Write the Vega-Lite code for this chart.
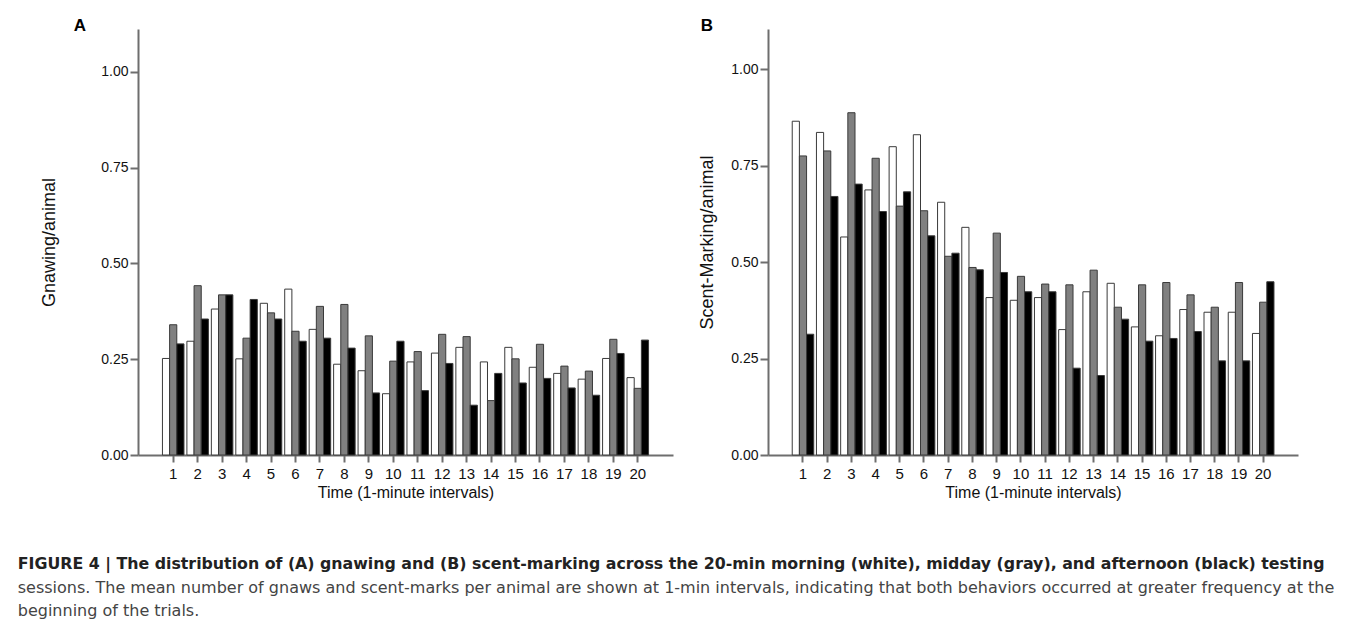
{
  "$schema": "https://vega.github.io/schema/vega-lite/v6.json",
  "background": "white",
  "padding": {"left": 17, "top": 17, "right": 0, "bottom": 0},
  "datasets": {
    "gnaw": [
      {"minute": 1, "morning": 0.252, "midday": 0.340, "afternoon": 0.290},
      {"minute": 2, "morning": 0.297, "midday": 0.442, "afternoon": 0.355},
      {"minute": 3, "morning": 0.381, "midday": 0.418, "afternoon": 0.418},
      {"minute": 4, "morning": 0.251, "midday": 0.305, "afternoon": 0.406},
      {"minute": 5, "morning": 0.396, "midday": 0.371, "afternoon": 0.355},
      {"minute": 6, "morning": 0.433, "midday": 0.323, "afternoon": 0.297},
      {"minute": 7, "morning": 0.328, "midday": 0.388, "afternoon": 0.305},
      {"minute": 8, "morning": 0.237, "midday": 0.393, "afternoon": 0.279},
      {"minute": 9, "morning": 0.220, "midday": 0.311, "afternoon": 0.162},
      {"minute": 10, "morning": 0.160, "midday": 0.245, "afternoon": 0.297},
      {"minute": 11, "morning": 0.243, "midday": 0.270, "afternoon": 0.168},
      {"minute": 12, "morning": 0.266, "midday": 0.315, "afternoon": 0.239},
      {"minute": 13, "morning": 0.281, "midday": 0.309, "afternoon": 0.130},
      {"minute": 14, "morning": 0.243, "midday": 0.142, "afternoon": 0.213},
      {"minute": 15, "morning": 0.281, "midday": 0.251, "afternoon": 0.188},
      {"minute": 16, "morning": 0.229, "midday": 0.289, "afternoon": 0.200},
      {"minute": 17, "morning": 0.213, "midday": 0.232, "afternoon": 0.175},
      {"minute": 18, "morning": 0.198, "midday": 0.219, "afternoon": 0.156},
      {"minute": 19, "morning": 0.252, "midday": 0.302, "afternoon": 0.265},
      {"minute": 20, "morning": 0.202, "midday": 0.174, "afternoon": 0.300}
    ],
    "scent": [
      {"minute": 1, "morning": 0.865, "midday": 0.775, "afternoon": 0.313},
      {"minute": 2, "morning": 0.836, "midday": 0.788, "afternoon": 0.670},
      {"minute": 3, "morning": 0.565, "midday": 0.887, "afternoon": 0.702},
      {"minute": 4, "morning": 0.687, "midday": 0.769, "afternoon": 0.631},
      {"minute": 5, "morning": 0.799, "midday": 0.645, "afternoon": 0.682},
      {"minute": 6, "morning": 0.830, "midday": 0.633, "afternoon": 0.568},
      {"minute": 7, "morning": 0.655, "midday": 0.515, "afternoon": 0.523},
      {"minute": 8, "morning": 0.590, "midday": 0.486, "afternoon": 0.480},
      {"minute": 9, "morning": 0.408, "midday": 0.575, "afternoon": 0.473},
      {"minute": 10, "morning": 0.401, "midday": 0.463, "afternoon": 0.423},
      {"minute": 11, "morning": 0.408, "midday": 0.443, "afternoon": 0.423},
      {"minute": 12, "morning": 0.325, "midday": 0.441, "afternoon": 0.225},
      {"minute": 13, "morning": 0.423, "midday": 0.479, "afternoon": 0.206},
      {"minute": 14, "morning": 0.445, "midday": 0.383, "afternoon": 0.352},
      {"minute": 15, "morning": 0.332, "midday": 0.441, "afternoon": 0.295},
      {"minute": 16, "morning": 0.309, "midday": 0.447, "afternoon": 0.302},
      {"minute": 17, "morning": 0.377, "midday": 0.415, "afternoon": 0.320},
      {"minute": 18, "morning": 0.370, "midday": 0.383, "afternoon": 0.244},
      {"minute": 19, "morning": 0.370, "midday": 0.447, "afternoon": 0.244},
      {"minute": 20, "morning": 0.315, "midday": 0.396, "afternoon": 0.449}
    ]
  },
  "config": {
    "font": "Liberation Sans",
    "view": {"stroke": null},
    "axis": {
      "grid": false,
      "domainColor": "#6e6e6e",
      "domainWidth": 2,
      "tickColor": "#6e6e6e",
      "tickWidth": 2,
      "labelColor": "#111111",
      "titleColor": "#111111",
      "titleFontWeight": "normal",
      "labelFont": "Liberation Sans",
      "titleFont": "Liberation Sans"
    },
    "title": {"font": "Liberation Sans"}
  },
  "title": {
    "text": "FIGURE 4 | The distribution of (A) gnawing and (B) scent-marking across the 20-min morning (white), midday (gray), and afternoon (black) testing",
    "subtitle": ["sessions. The mean number of gnaws and scent-marks per animal are shown at 1-min intervals, indicating that both behaviors occurred at greater frequency at the", "beginning of the trials."],
    "orient": "bottom",
    "anchor": "start",
    "frame": "bounds",
    "dx": -23,
    "offset": 57,
    "font": "DejaVu Sans",
    "fontSize": 15.8,
    "fontWeight": "bold",
    "color": "#222222",
    "subtitleFont": "DejaVu Sans",
    "subtitleFontSize": 16,
    "subtitleColor": "#444444",
    "subtitlePadding": 7,
    "subtitleLineHeight": 23
  },
  "spacing": 25,
  "hconcat": [
    {
      "width": 535,
      "height": 426,
      "data": {"name": "gnaw"},
      "transform": [{"fold": ["morning", "midday", "afternoon"], "as": ["session", "value"]}],
      "title": {"text": "A", "anchor": "start", "frame": "bounds", "dx": 33, "offset": -6, "fontSize": 17, "fontWeight": "bold", "color": "#000000"},
      "mark": {"type": "bar", "stroke": "#3a3a3a", "strokeWidth": 1},
      "encoding": {
        "x": {
          "field": "minute", "type": "ordinal",
          "scale": {"paddingInner": 0.12, "paddingOuter": 1.18},
          "axis": {"title": "Time (1-minute intervals)", "labelAngle": 0, "labelFontSize": 15, "titleFontSize": 16, "tickSize": 7, "labelPadding": 4, "titlePadding": 3}
        },
        "xOffset": {"field": "session", "type": "nominal", "sort": ["morning", "midday", "afternoon"], "scale": {"paddingInner": 0, "paddingOuter": 0}},
        "y": {
          "field": "value", "type": "quantitative",
          "scale": {"domain": [0, 1.112], "nice": false, "zero": true},
          "axis": {"title": "Gnawing/animal", "values": [0, 0.25, 0.5, 0.75, 1], "format": ".2f", "labelFontSize": 14, "titleFontSize": 18, "tickSize": 8, "labelPadding": 2, "titlePadding": 42}
        },
        "fill": {"field": "session", "type": "nominal", "scale": {"domain": ["morning", "midday", "afternoon"], "range": ["#ffffff", "#808080", "#000000"]}, "legend": null}
      }
    },
    {
      "width": 530,
      "height": 426,
      "data": {"name": "scent"},
      "transform": [{"fold": ["morning", "midday", "afternoon"], "as": ["session", "value"]}],
      "title": {"text": "B", "anchor": "start", "frame": "bounds", "dx": 2, "offset": -6, "fontSize": 17, "fontWeight": "bold", "color": "#000000"},
      "mark": {"type": "bar", "stroke": "#3a3a3a", "strokeWidth": 1},
      "encoding": {
        "x": {
          "field": "minute", "type": "ordinal",
          "scale": {"paddingInner": 0.12, "paddingOuter": 1.08},
          "axis": {"title": "Time (1-minute intervals)", "labelAngle": 0, "labelFontSize": 15, "titleFontSize": 16, "tickSize": 7, "labelPadding": 4, "titlePadding": 3}
        },
        "xOffset": {"field": "session", "type": "nominal", "sort": ["morning", "midday", "afternoon"], "scale": {"paddingInner": 0, "paddingOuter": 0}},
        "y": {
          "field": "value", "type": "quantitative",
          "scale": {"domain": [0, 1.104], "nice": false, "zero": true},
          "axis": {"title": "Scent-Marking/animal", "values": [0, 0.25, 0.5, 0.75, 1], "format": ".2f", "labelFontSize": 14, "titleFontSize": 18, "tickSize": 8, "labelPadding": 2, "titlePadding": 14}
        },
        "fill": {"field": "session", "type": "nominal", "scale": {"domain": ["morning", "midday", "afternoon"], "range": ["#ffffff", "#808080", "#000000"]}, "legend": null}
      }
    }
  ]
}
